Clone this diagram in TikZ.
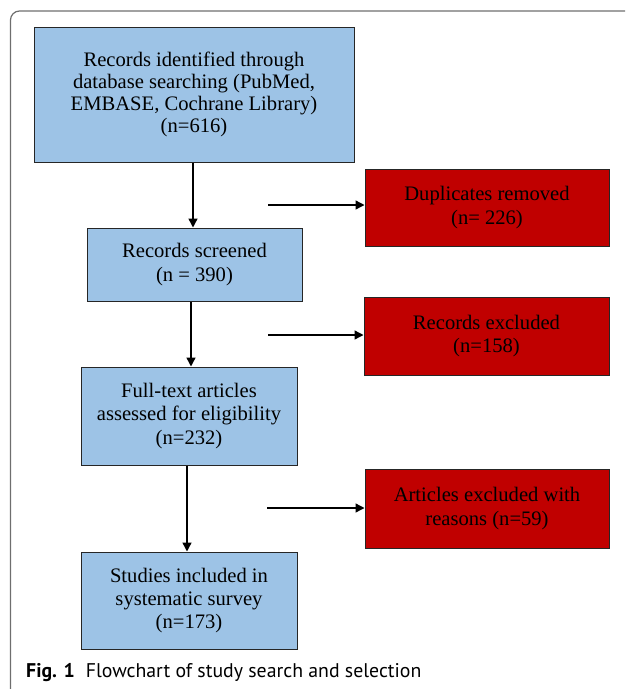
\documentclass[tikz,border=0pt]{standalone}
\usepackage{fontspec}
\setmainfont{Liberation Serif}
\newfontfamily\capfont{PT Sans}
\usetikzlibrary{arrows.meta}
\definecolor{boxblue}{RGB}{157,195,230}
\definecolor{boxred}{RGB}{192,0,0}
\definecolor{framegray}{RGB}{110,110,110}
\begin{document}
\begin{tikzpicture}[x=1pt,y=-1pt,
  box/.style={draw=black!85, line width=1pt, align=center, font=\fontsize{20.6}{23.3}\selectfont, inner sep=0pt},
  bluebox/.style={box, fill=boxblue},
  redbox/.style={box, fill=boxred},
  arr/.style={line width=1.4pt, -{Triangle[length=9pt,width=9pt]}}]
\useasboundingbox (0,0) rectangle (625,689);
\begin{scope}
\clip (0,0) rectangle (625,689);
\draw[framegray, line width=1.2pt, rounded corners=9pt] (10.5,11) rectangle (660,700);
\end{scope}
% blue boxes
\node[bluebox, minimum width=320pt, minimum height=135pt] (b1) at (194,94.5)
  {\raisebox{4pt}{\shortstack{Records identified through\\database searching (PubMed,\\EMBASE, Cochrane Library)\\(n=616)}}};
\node[bluebox, minimum width=215pt, minimum height=73pt] (b2) at (194.5,264.5)
  {Records screened\\(n = 390)};
\node[bluebox, minimum width=216pt, minimum height=98pt] (b3) at (189,416)
  {Full-text articles\\assessed for eligibility\\(n=232)};
\node[bluebox, minimum width=216pt, minimum height=97pt] (b4) at (189,600.5)
  {Studies included in\\systematic survey\\(n=173)};
% red boxes
\node[redbox, minimum width=244pt, minimum height=77pt] (r1) at (487,207.5)
  {Duplicates removed\\(n= 226)};
\node[redbox, minimum width=245pt, minimum height=78pt] (r2) at (486.5,336)
  {Records excluded\\(n=158)};
\node[redbox, minimum width=244pt, minimum height=79pt] (r3) at (487,508.5)
  {Articles excluded with\\reasons (n=59)};
% vertical arrows
\coordinate (v1) at (193,0);
\coordinate (v2) at (191,0);
\coordinate (v3) at (187,0);
\draw[arr] (b1.south -| v1) -- (b2.north -| v1);
\draw[arr] (b2.south -| v2) -- (b3.north -| v2);
\draw[arr] (b3.south -| v3) -- (b4.north -| v3);
% horizontal arrows
\coordinate (h1) at (268,205);
\coordinate (h2) at (268,335);
\coordinate (h3) at (267,508);
\draw[arr] (h1) -- (r1.west |- h1);
\draw[arr] (h2) -- (r2.west |- h2);
\draw[arr] (h3) -- (r3.west |- h3);
% caption
\node[anchor=base west, inner sep=0pt, font=\capfont\fontsize{19.8}{22}\selectfont] (cap) at (26,677)
  {\textbf{Fig. 1}\hspace{0.55em}Flowchart of study search and selection};
\end{tikzpicture}
\end{document}
